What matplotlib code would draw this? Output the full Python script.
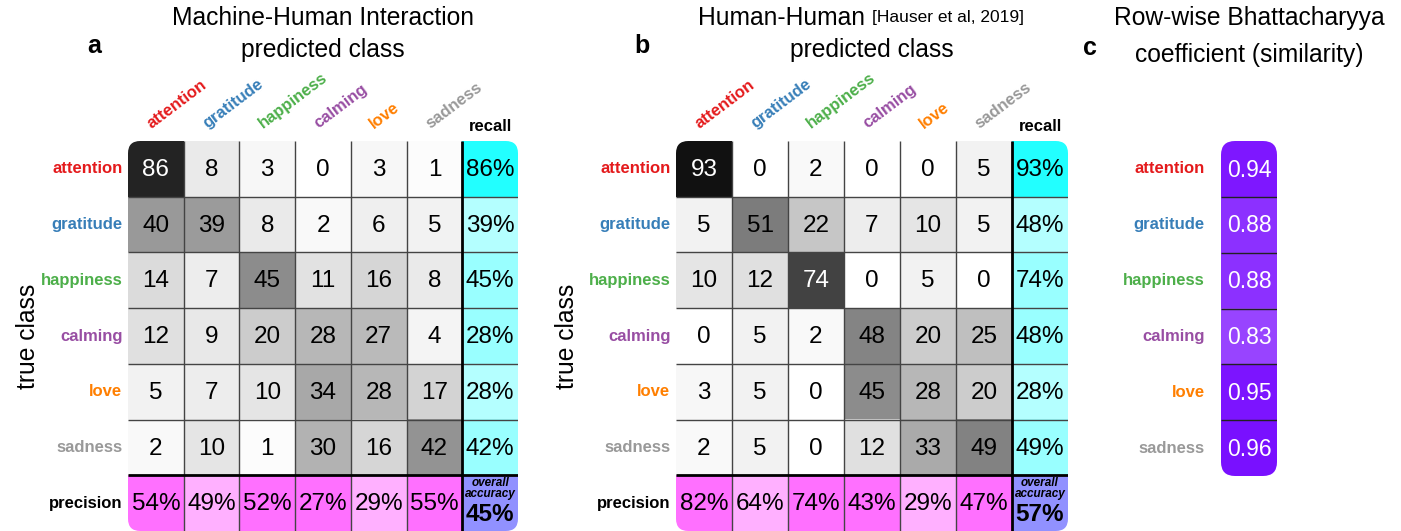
import numpy as np
import matplotlib
matplotlib.use("Agg")
import matplotlib.pyplot as plt
from matplotlib.patches import FancyBboxPatch
from matplotlib.colors import LinearSegmentedColormap, to_rgb

plt.rcParams['font.family'] = ['Liberation Sans', 'DejaVu Sans']

# data
classes = ['attention', 'gratitude', 'happiness', 'calming', 'love', 'sadness']
class_colors = ['#e41a1c', '#377eb8', '#4daf4a', '#984ea3', '#ff7f00', '#999999']

mhi_counts = [[86, 8, 3, 0, 3, 1],
              [40, 39, 8, 2, 6, 5],
              [14, 7, 45, 11, 16, 8],
              [12, 9, 20, 28, 27, 4],
              [5, 7, 10, 34, 28, 17],
              [2, 10, 1, 30, 16, 42]]
mhi_recall = [86, 39, 45, 28, 28, 42]
mhi_precision = [54, 49, 52, 27, 29, 55]
mhi_accuracy = 45

hh_counts = [[93, 0, 2, 0, 0, 5],
             [5, 51, 22, 7, 10, 5],
             [10, 12, 74, 0, 5, 0],
             [0, 5, 2, 48, 20, 25],
             [3, 5, 0, 45, 28, 20],
             [2, 5, 0, 12, 33, 49]]
hh_recall = [93, 48, 74, 48, 28, 49]
hh_precision = [82, 64, 74, 43, 29, 47]
hh_accuracy = 57

bhattacharyya = [0.94, 0.88, 0.88, 0.83, 0.95, 0.96]

# shading of the recall / precision cells as in the original figure
recall_shades = ['#22ffff', '#b4ffff', '#99ffff', '#99ffff', '#b4ffff', '#99ffff']
precision_shades = ['#ff70ff', '#ffb0ff', '#ff70ff', '#ff70ff', '#ffb0ff', '#ff70ff']
accuracy_color = '#9191ff'

TITLE_FS = 17.7

W, H = 1401, 531
fig = plt.figure(figsize=(W / 100, H / 100), dpi=100)


def px_axes(x0, y0, x1, y1):
    return fig.add_axes([x0 / W, 1 - y1 / H, (x1 - x0) / W, (y1 - y0) / H])


def draw_matrix(ax, counts, recall, precision, acc, letter, ylab_x):
    counts = np.array(counts)
    n = len(classes)
    img = np.ones((n + 1, n + 1, 3))
    for i in range(n):
        for j in range(n):
            g = 1 - counts[i, j] / 100
            img[i, j] = (g, g, g)
        img[i, n] = to_rgb(recall_shades[i])
        img[n, i] = to_rgb(precision_shades[i])
    img[n, n] = to_rgb(accuracy_color)

    im = ax.imshow(img, extent=(0, n + 1, n + 1, 0), aspect='auto', interpolation='nearest')
    box = FancyBboxPatch((0, 0), n + 1, n + 1, boxstyle='round,pad=0,rounding_size=0.22',
                         transform=ax.transData, facecolor='none', edgecolor='none')
    im.set_clip_path(box)
    ax.set_xlim(0, n + 1)
    ax.set_ylim(n + 1, 0)
    ax.axis('off')

    for k in range(1, n + 1):
        lw, c = (2, 'black') if k == n else (1, '#444444')
        ax.vlines(k, 0, n + 1, color=c, lw=lw)
        ax.hlines(k, 0, n + 1, color=c, lw=lw)

    for i in range(n):
        for j in range(n):
            v = counts[i, j]
            ax.text(j + 0.5, i + 0.52, str(v), ha='center', va='center', fontsize=17.5,
                    color='white' if v >= 70 else 'black')
        ax.text(n + 0.5, i + 0.52, f'{recall[i]}%', ha='center', va='center', fontsize=17.5)
        ax.text(i + 0.5, n + 0.52, f'{precision[i]}%', ha='center', va='center', fontsize=17.5)
    ax.text(n + 0.5, n + 0.24, 'overall\naccuracy', ha='center', va='center', fontsize=8.5,
            style='italic', fontweight='bold', linespacing=0.9)
    ax.text(n + 0.5, n + 0.7, f'{acc}%', ha='center', va='center', fontsize=17.5, fontweight='bold')

    for i, (lab, col) in enumerate(zip(classes, class_colors)):
        ax.text(-0.1, i + 0.5, lab, ha='right', va='center', fontsize=12,
                fontweight='bold', color=col, clip_on=False)
        ax.text(i + 0.42, -0.22, lab, ha='left', va='baseline', fontsize=12, fontweight='bold',
                color=col, rotation=37, rotation_mode='anchor', clip_on=False)
    ax.text(-0.1, n + 0.5, 'precision', ha='right', va='center', fontsize=12, fontweight='bold')
    ax.text(n + 0.5, -0.18, 'recall', ha='center', va='baseline', fontsize=12, fontweight='bold')
    ax.text(ylab_x, 3.5, 'true class', ha='center', va='center', rotation=90, fontsize=TITLE_FS)
    ax.text((n + 1) / 2, -1.63, 'predicted class', ha='center', va='center', fontsize=TITLE_FS)
    ax.text(-0.6, -1.7, letter, ha='center', va='center', fontsize=18, fontweight='bold')


ax_a = px_axes(128, 141, 518, 531)
draw_matrix(ax_a, mhi_counts, mhi_recall, mhi_precision, mhi_accuracy, 'a', -1.8)
ax_a.text(3.5, -2.21, 'Machine-Human Interaction', ha='center', va='center', fontsize=TITLE_FS)

ax_b = px_axes(676, 141, 1068, 531)
draw_matrix(ax_b, hh_counts, hh_recall, hh_precision, hh_accuracy, 'b', -1.95)
ax_b.text(3.37, -2.21, 'Human-Human', ha='right', va='center', fontsize=TITLE_FS)
ax_b.text(3.5, -2.21, '[Hauser et al, 2019]', ha='left', va='center', fontsize=12.5)

# panel c
ax_c = px_axes(1221, 141, 1277, 476)
purple = LinearSegmentedColormap.from_list('purp', ['#a050ff', '#7000ff'])
bc = np.array(bhattacharyya).reshape(-1, 1)
im = ax_c.imshow(bc, cmap=purple, vmin=0.8, vmax=1.0, extent=(0, 1, 6, 0),
                 aspect='auto', interpolation='nearest')
box = FancyBboxPatch((0, 0), 1, 6, boxstyle='round,pad=0,rounding_size=0.25',
                     transform=ax_c.transData, facecolor='none', edgecolor='none')
im.set_clip_path(box)
ax_c.set_xlim(0, 1)
ax_c.set_ylim(6, 0)
ax_c.axis('off')
for k in range(1, 6):
    ax_c.hlines(k, 0, 1, color='#222222', lw=1)
for i, v in enumerate(bhattacharyya):
    ax_c.text(0.5, i + 0.52, f'{v:.2f}', ha='center', va='center', fontsize=16.5, color='white')
for i, (lab, col) in enumerate(zip(classes, class_colors)):
    ax_c.text(-0.29, i + 0.5, lab, ha='right', va='center', fontsize=12,
              fontweight='bold', color=col, clip_on=False)
ax_c.text(0.5, -2.21, 'Row-wise Bhattacharyya', ha='center', va='center', fontsize=TITLE_FS)
ax_c.text(0.5, -1.54, 'coefficient (similarity)', ha='center', va='center', fontsize=TITLE_FS)
ax_c.text(-2.34, -1.66, 'c', ha='center', va='center', fontsize=18, fontweight='bold')

fig.savefig('out.png', dpi=100)
